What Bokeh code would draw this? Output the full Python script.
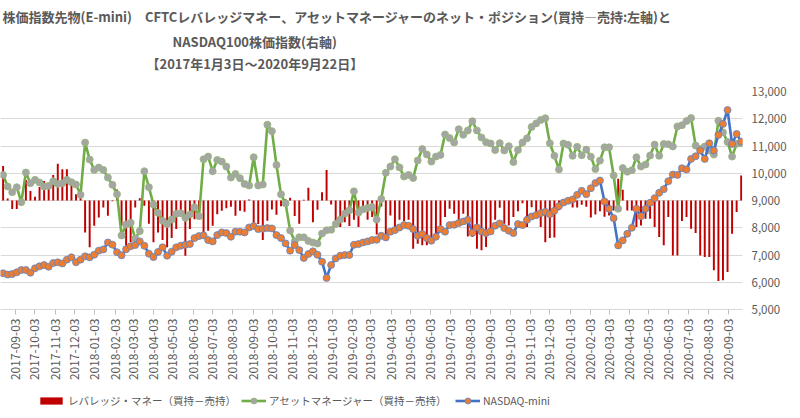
import math
import pandas as pd
from bokeh.plotting import figure
from bokeh.layouts import column
from bokeh.models import (Range1d, FixedTicker, NumeralTickFormatter, DatetimeTickFormatter,
                          Legend, LegendItem, Title)
from bokeh.embed import file_html
from bokeh.resources import INLINE

# ---------------- data ----------------
dates = pd.date_range("2017-08-15", "2020-09-22", freq="W-TUE")

# CFTC leveraged money net position (long - short), left axis (contracts)
lev_money = [
    25400, 1500, -6300, -6300, 1000, 15000, 7000, 2700, 10000, 14400,
    12400, 18800, 27000, 23000, 23000, 12400, 4600, 7000, -23400, -34400,
    -18500, -12400, -5100, -11200, -500, 8000, -18500, -33200, -30700, -5100,
    1700, -3900, -17000, -30700, -23400, -29000, -34400, -27600, -21000, -11700,
    -40500, -21000, -13700, -10000, -27100, -22200, -18500, -10000, -7600, -5600,
    -4600, -11200, -7600, -8300, 700, -19800, -17300, -29000, -14900, -6600,
    -10500, -4300, 1000, 2000, -11300, -17100, 500, 9300, -15900, -6800,
    6100, 22400, -2900, -14600, -19500, -15900, -18800, -14200, -19500, -7800,
    -14200, -12200, -24900, -4400, -24900, -11000, -21500, -14200, -15100, -14200,
    -35400, -31700, -32900, -32900, -31700, -26800, -20300, -12200, -6100, -9800,
    -14600, -9800, -26400, -26800, -35400, -36600, -34200, -21500, -14200, -5400,
    -17100, -18300, -12200, -7800, -2000, -19500, -4900, -9800, -19500, -30700,
    -27600, -27100, -7100, -2700, -200, -5100, -5100, -3200, -4600, -12400,
    -10200, -7800, -12000, -11000, -7300, 15900, 7800, -7300, -7300, -19500,
    -18300, -13400, -13400, -19500, -26800, -32900, -12200, -40300, -40300, -15100,
    -12200, -20700, -23900, -40300, -41500, -41500, -51200, -59000, -58600, -52500,
    -24400, -8500, 18300,
]

# CFTC asset manager net position (long - short), left axis (contracts)
asset_mgr = [
    18800, 10260, 6100, 9760, -1220, 20520, 12700, 15140, 13180, 10260,
    10740, 14160, 12200, 12700, 15140, 13420, 11720, 4160, 42500, 30040,
    22460, 24180, 22460, 16840, 11480, 4640, -25640, -17580, -16360, -28080,
    -22460, 21480, 9760, -2940, -9040, -14800, -17200, -14000, -9760, -9280,
    -12700, -10260, -4880, -11480, 30280, 32240, 21480, 29800, 28560, 24900,
    16840, 19540, 16360, 12200, 11000, 31740, 11000, 11720, 55680, 50900,
    26120, 4500, -2100, -22100, -30000, -27000, -27000, -29660, -30900, -31600,
    -24300, -21840, -21480, -17200, -14000, -9600, -7200, 6700, -8800, -6480,
    -5500, -4760, -14000, 1100, 20380, 24900, 30280, 24300, 17600, 18800,
    16480, 29400, 37720, 33800, 28560, 32220, 33440, 48460, 45800, 42600,
    52360, 48200, 51380, 58220, 51400, 46260, 42840, 41860, 36980, 42100,
    36740, 39900, 28200, 37100, 42600, 45640, 54000, 56600, 59100, 60400,
    42000, 32800, 22800, 41860, 40880, 32800, 39400, 33200, 37360, 32200,
    23100, 29300, 39080, 39080, 18320, -6100, 23800, 21120, 22200, 31740,
    24900, 26380, 32960, 41020, 32840, 41520, 41260, 39680, 54340, 55320,
    58360, 60560, 40300, 37860, 39560, 36640, 33700, 58600, 50060, 43000,
    32240, 41600, 42000,
]

# NASDAQ-mini price, right axis
nasdaq = [
    6330, 6280, 6300, 6365, 6450, 6450, 6350, 6510, 6585, 6630,
    6570, 6705, 6730, 6690, 6830, 6915, 6730, 6830, 6950, 6915,
    7010, 7160, 7205, 7460, 7380, 7100, 6990, 7210, 7320, 7365,
    7500, 7340, 7050, 6925, 7110, 7280, 6975, 7120, 7280, 7340,
    7380, 7400, 7620, 7695, 7720, 7550, 7500, 7730, 7830, 7805,
    7670, 7855, 7855, 7830, 8010, 8060, 7950, 7960, 7990, 7975,
    7730, 7620, 7425, 7160, 7365, 7180, 6890, 7035, 7135, 7010,
    6755, 6160, 6635, 6875, 6975, 7000, 7000, 7375, 7400, 7460,
    7500, 7550, 7560, 7705, 7645, 7855, 7915, 8010, 8100, 8075,
    7950, 7705, 7770, 7620, 7525, 7670, 7950, 7855, 8097, 8110,
    8170, 8231, 8292, 7817, 8012, 7865, 7804, 7865, 8073, 8158,
    7987, 7890, 7804, 8134, 8097, 8292, 8414, 8463, 8536, 8585,
    8500, 8622, 8793, 8927, 8988, 9037, 9207, 9354, 9232, 9451,
    9640, 9733, 8963, 8695, 8353, 7352, 7535, 7779, 8000, 8695,
    8426, 8695, 8915, 9085, 9281, 9415, 9708, 9952, 9940, 10184,
    10136, 10526, 10624, 10832, 10526, 11100, 10832, 11405, 11810, 12321,
    11076, 11442, 11161,
]

month_ticks = pd.date_range("2017-09-03", "2020-09-03", freq=pd.DateOffset(months=1))
right_ticks = [5000, 6000, 7000, 8000, 9000, 10000, 11000, 12000, 13000]

title_1 = "株価指数先物(E-mini)　CFTCレバレッジマネー、アセットマネージャーのネット・ポジション(買持―売持:左軸)と"
title_2 = "NASDAQ100株価指数(右軸)"
title_3 = "【2017年1月3日～2020年9月22日】"
label_lev = "レバレッジ・マネー（買持－売持）"
label_am = "アセットマネージャー（買持－売持）"
label_nq = "NASDAQ-mini"

# ---------------- styles ----------------
FONT = "Noto Sans CJK JP"
TXT = "#595959"
RED, GREEN, GREY, BLUE, ORANGE = "#c00000", "#70ad47", "#a5a5a5", "#4472c4", "#ed7d31"

def ms(ts):
    return pd.Timestamp(ts).value / 1e6

x_start = ms("2017-08-11")
x_end = ms("2020-09-24")

# ---------------- main figure ----------------
p = figure(width=800, height=390, x_axis_type="datetime", y_axis_location="right",
           x_range=Range1d(x_start, x_end), y_range=Range1d(5000, 13000),
           output_backend="svg", toolbar_location=None,
           min_border_left=0, min_border_right=58,
           min_border_top=91, min_border_bottom=81,
           background_fill_color="white", border_fill_color="white")
p.outline_line_color = None
p.extra_y_ranges = {"pos": Range1d(-80000, 80000)}

x = [ms(d) for d in dates]
day_ms = 86400000

p.vbar(x=x, top=lev_money, bottom=0, width=3 * day_ms, y_range_name="pos",
       fill_color=RED, line_color=None)
p.line(x, asset_mgr, y_range_name="pos", line_color=GREEN, line_width=2.6)
p.scatter(x, asset_mgr, y_range_name="pos", marker="circle", size=7,
          fill_color=GREY, line_color="#93b873", line_width=0.8)
p.line(x, nasdaq, line_color=BLUE, line_width=2.6)
p.scatter(x, nasdaq, marker="circle", size=7,
          fill_color=ORANGE, line_color="#5b85cc", line_width=0.8)

# right axis
ya = p.yaxis[0]
ya.ticker = FixedTicker(ticks=right_ticks)
ya.formatter = NumeralTickFormatter(format="0,0")
ya.axis_line_color = None
ya.major_tick_line_color = None
ya.minor_tick_line_color = None
ya.major_label_standoff = 3
ya.major_label_text_font = FONT
ya.major_label_text_font_size = "11.5px"
ya.major_label_text_color = TXT

p.ygrid.grid_line_color = "#d9d9d9"
p.xgrid.grid_line_color = None

# date axis
xa = p.xaxis[0]
xa.ticker = FixedTicker(ticks=[ms(t) for t in month_ticks])
fmt = "%Y-%m-%d"
xa.formatter = DatetimeTickFormatter(days=fmt, months=fmt, years=fmt, hours=fmt,
                                     hourmin=fmt, minutes=fmt, minsec=fmt, seconds=fmt,
                                     milliseconds=fmt, microseconds=fmt)
xa.major_label_orientation = math.pi / 2
xa.axis_line_color = "#d9d9d9"
xa.major_tick_line_color = "#bfbfbf"
xa.major_tick_in = 0
xa.major_tick_out = 5
xa.minor_tick_line_color = None
xa.major_label_standoff = 4
xa.major_label_text_font = FONT
xa.major_label_text_font_size = "12px"
xa.major_label_text_color = TXT

# titles: stacked upward from the plot; a blank spacer title sits nearest the plot
p.title.text = ""
p.add_layout(Title(text=" ", text_font=FONT, text_font_size="11px", standoff=0,
                   text_color=TXT), "above")
for txt, off, so in [(title_3, 146, 0), (title_2, 172, 2), (title_1, 2, 6)]:
    p.add_layout(Title(text=txt, align="left", offset=off, standoff=so,
                       vertical_align="middle", text_font=FONT, text_font_size="13px",
                       text_font_style="bold", text_color=TXT), "above")

# ---------------- legend strip ----------------
leg = figure(width=800, height=28, x_range=Range1d(0, 800), y_range=Range1d(0, 28),
             output_backend="svg", toolbar_location=None, min_border=0,
             x_axis_location=None, y_axis_location=None,
             background_fill_color="white", border_fill_color="white")
leg.outline_line_color = None
leg.grid.grid_line_color = None

# sample renderers placed outside the visible strip (only their legend symbols show)
off_x, off_y = [-100], [-100]
r_bar = leg.vbar(x=off_x, top=off_y, width=1, fill_color=RED, line_color=None)
r_gl = leg.line(off_x, off_y, line_color=GREEN, line_width=2.6)
r_gp = leg.scatter(off_x, off_y, marker="circle", fill_color=GREY, line_color="#93b873",
                   line_width=0.8)
r_bl = leg.line(off_x, off_y, line_color=BLUE, line_width=2.6)
r_bp = leg.scatter(off_x, off_y, marker="circle", fill_color=ORANGE, line_color="#5b85cc",
                   line_width=0.8)

def make_legend(label, renderers, loc, gw, gh):
    return Legend(items=[LegendItem(label=label, renderers=renderers)],
                  location=loc, glyph_width=gw, glyph_height=gh, label_standoff=3,
                  padding=0, margin=0, border_line_color=None, background_fill_alpha=0,
                  label_height=15, label_text_font=FONT, label_text_font_size="10.5px",
                  label_text_color=TXT)

leg.add_layout(make_legend(label_lev, [r_bar], (37, 10), 28, 9), "center")
leg.add_layout(make_legend(label_am, [r_gl, r_gp], (241, 10), 25, 15), "center")
leg.add_layout(make_legend(label_nq, [r_bl, r_bp], (455, 10), 25, 15), "center")

open("out.html", "w").write(file_html(column(p, leg), INLINE))
